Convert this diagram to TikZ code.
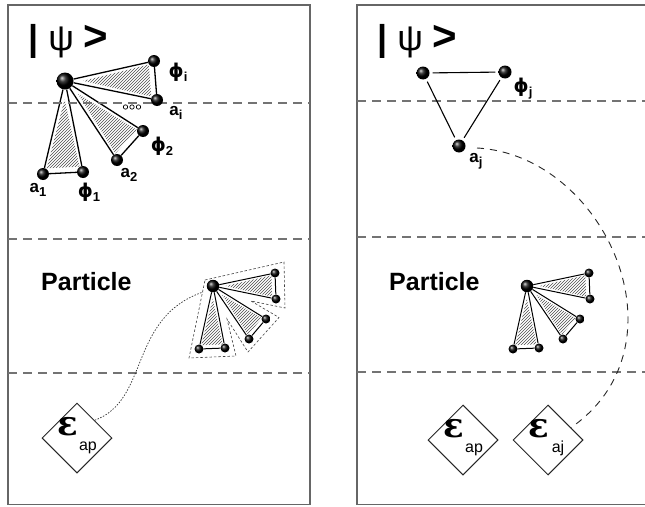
\documentclass[tikz,border=0pt]{standalone}
\usepackage{fontspec}
\setmainfont{Liberation Sans}
\newfontfamily\gkfont{DejaVu Sans}
\newfontfamily\epsfont{DejaVu Serif}
\usetikzlibrary{calc,shapes.geometric,backgrounds,patterns}
\newcommand\hatchtri[3]{\fill[hatchfill] ($0.80*(#1)+0.10*(#2)+0.10*(#3)$) -- ($0.06*(#1)+0.88*(#2)+0.06*(#3)$) -- ($0.06*(#1)+0.06*(#2)+0.88*(#3)$) -- cycle;}
\newcommand\phisym{{\gkfont\bfseries\fontsize{19}{19}\selectfont ϕ}}
\newcommand\lsub[1]{\raisebox{-4pt}{\fontsize{13}{13}\selectfont\bfseries #1}}
\newcommand\pfan[2]{%
  \begin{scope}[shift={#2}]
    \node[phub] (#1h) at (0,0) {};
    \node[pball] (#1n1) at (62,-13) {};
    \node[pball] (#1n2) at (63,13) {};
    \node[pball] (#1n3) at (53,33) {};
    \node[pball] (#1n4) at (36,53) {};
    \node[pball] (#1n5) at (-14,63) {};
    \node[pball] (#1n6) at (12,62) {};
  \end{scope}
  \begin{scope}[on background layer]
    \hatchtri{#1h}{#1n1}{#1n2}
    \hatchtri{#1h}{#1n3}{#1n4}
    \hatchtri{#1h}{#1n5}{#1n6}
    \draw[pline] (#1h) -- (#1n1); \draw[pline] (#1h) -- (#1n2); \draw[pline] (#1n1) -- (#1n2);
    \draw[pline] (#1h) -- (#1n3); \draw[pline] (#1h) -- (#1n4); \draw[pline] (#1n3) -- (#1n4);
    \draw[pline] (#1h) -- (#1n5); \draw[pline] (#1h) -- (#1n6); \draw[pline] (#1n5) -- (#1n6);
  \end{scope}}
\begin{document}
\begin{tikzpicture}[x=1pt,y=-1pt,
  frame/.style={draw=black!60, line width=1.6pt},
  sep/.style={draw=black!55, line width=1.4pt, dash pattern=on 9pt off 6pt},
  hub/.style={circle, inner sep=0pt, minimum size=17pt, shading=ball, ball color=black},
  ball/.style={circle, inner sep=0pt, minimum size=12pt, shading=ball, ball color=black},
  tball/.style={circle, inner sep=0pt, minimum size=13pt, shading=ball, ball color=black},
  phub/.style={circle, inner sep=0pt, minimum size=12.5pt, shading=ball, ball color=black},
  pball/.style={circle, inner sep=0pt, minimum size=9pt, shading=ball, ball color=black},
  fanline/.style={line width=1.3pt},
  pline/.style={line width=1pt},
  tline/.style={line width=1.1pt, shorten <=3pt, shorten >=3pt},
  hatchfill/.style={pattern=north east lines, pattern color=black!70},
  lab/.style={font=\fontsize{17}{17}\selectfont\bfseries, inner sep=0pt},
  ket/.style={font=\fontsize{36}{36}\selectfont, inner sep=0pt},
  ptext/.style={font=\fontsize{25}{25}\selectfont\bfseries, inner sep=0pt},
  epsd/.style={diamond, draw=black!85, line width=1pt, minimum size=70pt, inner sep=0pt, aspect=1},
  epstext/.style={font=\epsfont\bfseries\fontsize{34}{34}\selectfont, inner sep=0pt},
  subtext/.style={font=\fontsize{16}{16}\selectfont, inner sep=0pt},
  outline/.style={draw=black!75, line width=0.6pt, dash pattern=on 2.5pt off 2pt},
  dotcurve/.style={draw=black!80, line width=0.7pt, dash pattern=on 1.5pt off 1.5pt},
  arcdash/.style={draw=black!85, line width=0.9pt, dash pattern=on 7pt off 6pt},
  dots/.style={line width=0.7pt}
]
\path[use as bounding box] (0,0) rectangle (645,506);
% frames
\draw[frame] (8,5) rectangle (310,504.5);
\draw[frame] (645,5) -- (357,5) -- (357,504.5) -- (645,504.5);
% separators
\foreach \y in {103,239,373} \draw[sep] (8,\y) -- (310,\y);
\foreach \y in {101,237,372} \draw[sep] (357,\y) -- (645,\y);
% kets
\node[ket, anchor=base west] (ketL) at (28,50) {\textbf{|} ψ {\fontsize{42}{42}\selectfont\bfseries >}};
\node[ket, anchor=base west] (ketR) at (377,50) {\textbf{|} ψ {\fontsize{42}{42}\selectfont\bfseries >}};
% left top fan
\node[hub] (H) at (65,81) {};
\node[ball] (phii) at (154,61) {};
\node[ball] (ai) at (157,100) {};
\node[ball] (phi2) at (143,131) {};
\node[ball] (a2) at (117,160) {};
\node[ball] (a1) at (43,174) {};
\node[ball] (phi1) at (83,172) {};
\begin{scope}[on background layer]
  \hatchtri{H}{a1}{phi1}
  \hatchtri{H}{a2}{phi2}
  \hatchtri{H}{phii}{ai}
  \draw[fanline] (H) -- (a1); \draw[fanline] (H) -- (phi1); \draw[fanline] (a1) -- (phi1);
  \draw[fanline] (H) -- (a2); \draw[fanline] (H) -- (phi2); \draw[fanline] (a2) -- (phi2);
  \draw[fanline] (H) -- (phii); \draw[fanline] (H) -- (ai); \draw[fanline] (phii) -- (ai);
\end{scope}
\foreach \x in {125.5,132,138.5} \draw[dots] (\x,107) circle (2.2pt);
\node[lab] (lphii) at (178,72) {\phisym\lsub{i}};
\node[lab] (lai) at (176,113) {a\lsub{i}};
\node[lab] (lphi2) at (162,146) {\phisym\lsub{2}};
\node[lab] (la2) at (129,175) {a\lsub{2}};
\node[lab] (la1) at (38,190) {a\lsub{1}};
\node[lab] (lphi1) at (89,192) {\phisym\lsub{1}};
% right triangle
\node[tball] (T1) at (423,73) {};
\node[tball] (T2) at (505,72) {};
\node[tball] (T3) at (459,146) {};
\draw[tline] (T1) -- (T2);
\draw[tline] (T1) -- (T3);
\draw[tline] (T2) -- (T3);
\node[lab] (lphij) at (523,89) {\phisym\lsub{j}};
\node[lab] (laj) at (476,161) {a\lsub{j}};
% Particle
\node[ptext, anchor=base west] (partL) at (41,290) {Particle};
\node[ptext, anchor=base west] (partR) at (389,290) {Particle};
\pfan{p}{(213,286)}
\pfan{q}{(527,286)}
% outline of left particle fan
\draw[outline] (205,280) -- (284,262) -- (285,308) -- (251,301) -- (279,317.5) -- (248,352) -- (227,319) -- (236,356) -- (189,358) -- cycle;
% diamonds
\node[epsd] (e1) at (77,438) {};
\node[epstext, anchor=base] (e1e) at ($(e1)+(-9,-3)$) {ε};
\node[subtext, anchor=base] (e1s) at ($(e1)+(11,12)$) {ap};
\node[epsd] (e2) at (463,440) {};
\node[epstext, anchor=base] (e2e) at ($(e2)+(-9,-3)$) {ε};
\node[subtext, anchor=base] (e2s) at ($(e2)+(11,12)$) {ap};
\node[epsd] (e3) at (548,440) {};
\node[epstext, anchor=base] (e3e) at ($(e3)+(-9,-3)$) {ε};
\node[subtext, anchor=base] (e3s) at ($(e3)+(10,12)$) {aj};
% connectors
\coordinate (oL) at (203,292);
\draw[dotcurve] (e1.north east) .. controls (150,400) and (128,318) .. (oL);
\coordinate (arcS) at ($(T3)+(18,2)$);
\coordinate (arcE) at ($(e3.north east)!0.3!(e3.east)$);
\draw[arcdash] (arcS) .. controls (605,155) and (690,345) .. (arcE);
\end{tikzpicture}
\end{document}
